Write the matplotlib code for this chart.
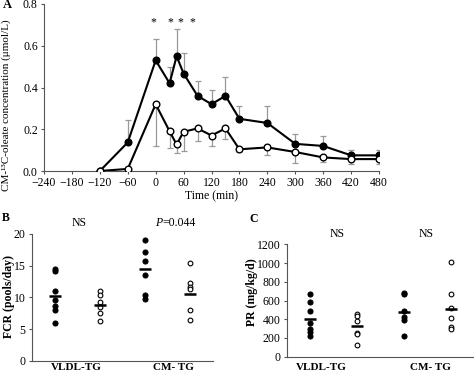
import matplotlib
matplotlib.use("Agg")
import matplotlib.pyplot as plt

plt.rcParams["font.family"] = ["Liberation Serif", "DejaVu Serif"]

# panel A: CM-13C-oleate time course
time_min = [-120, -60, 0, 30, 45, 60, 90, 120, 150, 180, 240, 300, 360, 420, 480]
filled_mean = [0.0, 0.137, 0.53, 0.42, 0.55, 0.467, 0.36, 0.32, 0.36, 0.25, 0.23, 0.13, 0.12, 0.075, 0.075]
filled_err = [0.0, 0.108, 0.10, 0.08, 0.13, 0.10, 0.07, 0.07, 0.09, 0.06, 0.08, 0.045, 0.05, 0.025, 0.025]
open_mean = [0.0, 0.01, 0.32, 0.19, 0.127, 0.188, 0.204, 0.17, 0.204, 0.104, 0.113, 0.091, 0.065, 0.057, 0.057]
open_err = [0.0, 0.0, 0.20, 0.08, 0.04, 0.094, 0.06, 0.05, 0.05, 0.015, 0.038, 0.053, 0.022, 0.023, 0.023]
star_x = [-4, 32, 53, 78]
x_ticks_a = list(range(-240, 481, 60))

# panel B: FCR (pools/day)
fcr_vldl_filled = [14.4, 14.1, 11.0, 9.6, 8.6, 8.0, 6.0]
fcr_vldl_open = [11.0, 10.3, 9.3, 8.5, 7.5, 6.3]
fcr_cm_filled = [19.0, 17.2, 15.8, 13.6, 10.3, 9.8]
fcr_cm_open = [15.5, 12.3, 11.7, 11.3, 8.0, 6.5]
fcr_means = [10.2, 8.8, 14.4, 10.6]

# panel C: PR (mg/kg/d)
pr_vldl_filled = [670, 580, 490, 360, 300, 260, 225]
pr_vldl_open = [460, 430, 385, 255, 240, 120]
pr_cm_filled = [685, 665, 490, 420, 395, 225]
pr_cm_open = [1010, 670, 520, 410, 315, 295]
pr_means = [400, 325, 480, 510]

groups = ["VLDL-TG", "CM- TG"]

W, H = 474, 372
fig = plt.figure(figsize=(W / 100, H / 100), dpi=100)


def box(l, t, r, b):
    return [l / W, 1 - b / H, (r - l) / W, (b - t) / H]


def ftext(x, y, s, **kw):
    # place text by pixel position from the top-left corner
    kw.setdefault("ha", "center")
    kw.setdefault("va", "center")
    kw.setdefault("fontsize", 8.5)
    return fig.text(x / W, 1 - y / H, s, **kw)


# ---- panel A ----
ax = fig.add_axes(box(44, 4, 379, 171))
ax.errorbar(time_min, filled_mean, yerr=[[0] * len(filled_err), filled_err],
            fmt="none", ecolor="#999999", elinewidth=0.9, capsize=2.5, capthick=0.9, zorder=1)
ax.errorbar(time_min, open_mean, yerr=[open_err, [0] * len(open_err)],
            fmt="none", ecolor="#999999", elinewidth=0.9, capsize=2.5, capthick=0.9, zorder=1)
ax.plot(time_min, filled_mean, "-o", color="black", lw=1.5, ms=4.8,
        mfc="black", mec="black", zorder=3)
ax.plot(time_min, open_mean, "-o", color="black", lw=1.5, ms=4.8,
        mfc="white", mec="black", mew=1.0, zorder=3)
for sx in star_x:
    ax.text(sx, 0.712, "*", ha="center", va="center", fontsize=8.5)
ax.set_xlim(-240, 480)
ax.set_ylim(0, 0.8)
ax.set_xticks(x_ticks_a)
ax.set_yticks([0.0, 0.2, 0.4, 0.6, 0.8])
ax.set_yticklabels(["0.0", "0.2", "0.4", "0.6", "0.8"])
ax.spines[["top", "right"]].set_visible(False)
ax.spines[["left", "bottom"]].set_color("#555555")
ax.tick_params(labelsize=8.5, length=2.5, width=0.8, color="#555555", pad=2)
ax.set_xlabel("Time (min)", fontsize=8.5, labelpad=1)
ftext(6, 105, "CM-\u00b9\u00b3C-oleate concentration (\u03bcmol/L)", rotation=90, fontsize=8)
ftext(7, 5, "A", fontsize=9, fontweight="bold")


def dot_panel(ax, series, means, ymax, yticks):
    positions = [1, 2, 3, 4]
    for i, vals in enumerate(series):
        filled = i % 2 == 0
        ax.plot([positions[i]] * len(vals), vals, "o", ms=3.6 if filled else 3.4,
                mfc="black" if filled else "white", mec="black",
                mew=0.8, zorder=2)
    ax.plot(positions, means, "_", color="black", ms=9, mew=1.8, zorder=3)
    ax.set_xlim(0.5, 4.5)
    ax.set_ylim(0, ymax)
    ax.set_yticks(yticks)
    ax.set_xticks([])
    ax.spines[["top", "right"]].set_visible(False)
    ax.spines[["left", "bottom"]].set_color("#555555")
    ax.tick_params(axis="y", labelsize=8.5, length=2.5, width=0.8, color="#555555", pad=2)


# ---- panel B ----
axb = fig.add_axes(box(32, 234, 213, 360.7))
dot_panel(axb, [fcr_vldl_filled, fcr_vldl_open, fcr_cm_filled, fcr_cm_open],
          fcr_means, 20, [0, 5, 10, 15, 20])
ftext(9, 296, "FCR (pools/day)", rotation=90, fontweight="bold")
for gx, g in zip([76, 173], groups):
    ftext(gx, 362.5, g, va="top", fontsize=8, fontweight="bold")
ftext(6, 218, "B", fontweight="bold")
ftext(79, 223, "NS")
ftext(155, 223, "P", ha="left", style="italic")
ftext(162, 223, "=0.044", ha="left")

# ---- panel C ----
axc = fig.add_axes(box(287, 244.3, 474, 356.7))
dot_panel(axc, [pr_vldl_filled, pr_vldl_open, pr_cm_filled, pr_cm_open],
          pr_means, 1200, [0, 200, 400, 600, 800, 1000, 1200])
ftext(252, 292, "PR (mg/kg/d)", rotation=90, fontweight="bold")
for gx, g in zip([321, 430], groups):
    ftext(gx, 362.5, g, va="top", fontsize=8, fontweight="bold")
ftext(254, 219, "C", fontweight="bold")
ftext(337, 234, "NS")
ftext(426, 234, "NS")

fig.savefig("out.png", dpi=100)
